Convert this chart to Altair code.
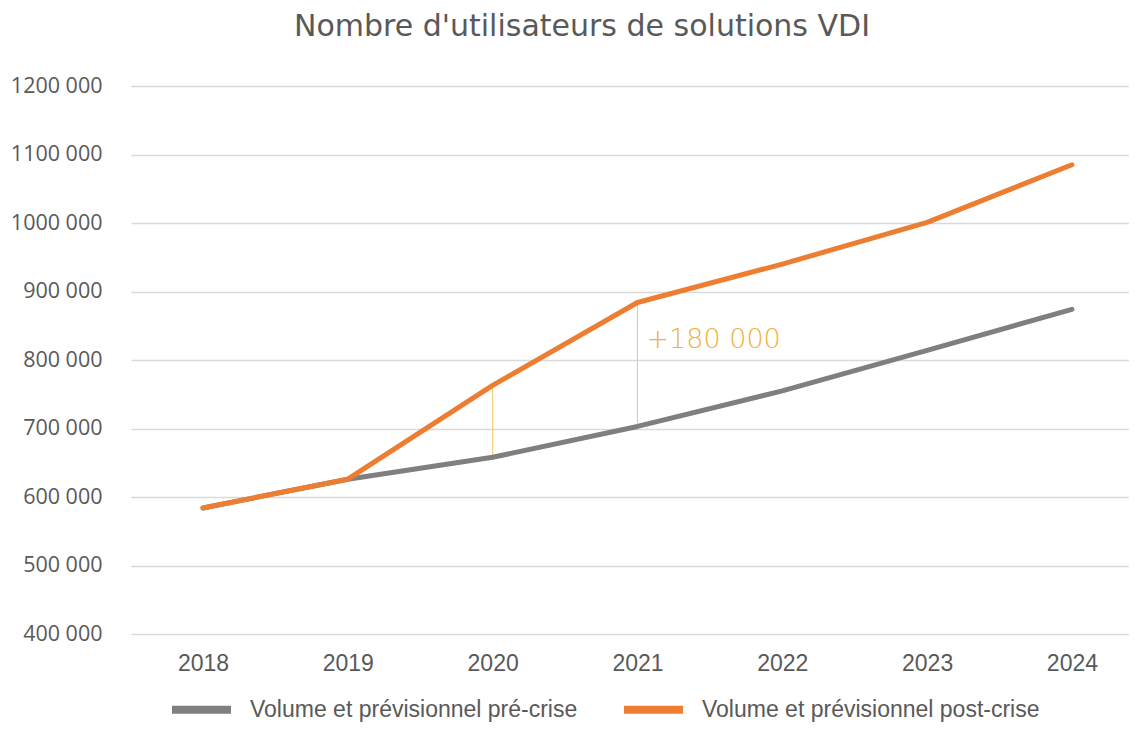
import altair as alt
import pandas as pd

# ---- data ----
years = [2018, 2019, 2020, 2021, 2022, 2023, 2024]
pre_crise = [584000, 626000, 658000, 703000, 755000, 814000, 874000]
post_crise = [584000, 626000, 763000, 884000, 940000, 1001000, 1085000]
series_names = ["Volume et prévisionnel pré-crise", "Volume et prévisionnel post-crise"]
series_colors = ["#7F7F7F", "#ED7D31"]
gap_years = [2020, 2021]
annotation_text = ["+180 000"]
annotation_year = [2021]
annotation_value = [829000]
y_ticks = [400000, 500000, 600000, 700000, 800000, 900000, 1000000, 1100000, 1200000]
chart_title = "Nombre d'utilisateurs de solutions VDI"

pre_df = pd.DataFrame({"year": years, "value": pre_crise, "series": series_names[0]})
post_df = pd.DataFrame({"year": years, "value": post_crise, "series": series_names[1]})
gap_df = pd.DataFrame({
    "year": gap_years,
    "pre": [pre_crise[years.index(y)] for y in gap_years],
    "post": [post_crise[years.index(y)] for y in gap_years],
})
ann_df = pd.DataFrame({"year": annotation_year, "value": annotation_value, "label": annotation_text})

x_scale = alt.Scale(domain=[2017.503, 2024.394], nice=False, zero=False)
y_scale = alt.Scale(domain=[400000, 1200000], nice=False, zero=False)

x_enc = alt.X("year:Q", scale=x_scale,
              axis=alt.Axis(values=years, format="d", title=None, grid=False, domain=False,
                            ticks=False, labelPadding=18, labelFont="Liberation Sans",
                            labelFontSize=23, labelColor="#595959"))
y_axis = alt.Axis(values=y_ticks, title=None, grid=True, gridColor="#D9D9D9", gridWidth=1.5,
                  domain=False, ticks=False, labelPadding=29, labelFont="Open Sans",
                  labelFontSize=21.5, labelColor="#595959",
                  labelExpr="floor(datum.value / 1000) + ' 000'")

color_scale = alt.Scale(domain=series_names, range=series_colors)
legend = alt.Legend(title=None, orient="none", direction="horizontal", legendX=37, legendY=590,
                    padding=0, symbolType="stroke", symbolStrokeWidth=8, symbolSize=3481,
                    labelFont="Liberation Sans", labelFontSize=23, labelColor="#595959",
                    labelOffset=15, columnPadding=30, labelLimit=600)

rules = alt.Chart(gap_df).mark_rule(color="#F3C56A", strokeWidth=1).encode(
    x=alt.X("year:Q", scale=x_scale),
    y=alt.Y("pre:Q", scale=y_scale),
    y2="post:Q",
)

def line_layer(df):
    return alt.Chart(df).mark_line(strokeWidth=5, strokeCap="round", strokeJoin="round").encode(
        x=x_enc,
        y=alt.Y("value:Q", scale=y_scale, axis=y_axis),
        color=alt.Color("series:N", scale=color_scale, legend=legend),
    )

text = alt.Chart(ann_df).mark_text(align="left", baseline="middle", dx=9, font="DejaVu Sans",
                                   fontSize=27, fontWeight=300, color="#F0B13A").encode(
    x=alt.X("year:Q", scale=x_scale),
    y=alt.Y("value:Q", scale=y_scale),
    text="label:N",
)

chart = alt.layer(rules, line_layer(pre_df), line_layer(post_df), text).properties(
    width=998,
    height=548,
    autosize=alt.AutoSizeParams(type="none"),
    padding={"left": 123, "top": 78, "right": 0, "bottom": 89},
    title=alt.TitleParams(chart_title, font="DejaVu Sans", fontSize=30, fontWeight="normal",
                          color="#595959", anchor="middle", frame="group", dx=-48, offset=33),
).configure_view(stroke=None)

chart.save("out.html", embed_options={"renderer": "svg", "actions": False})
